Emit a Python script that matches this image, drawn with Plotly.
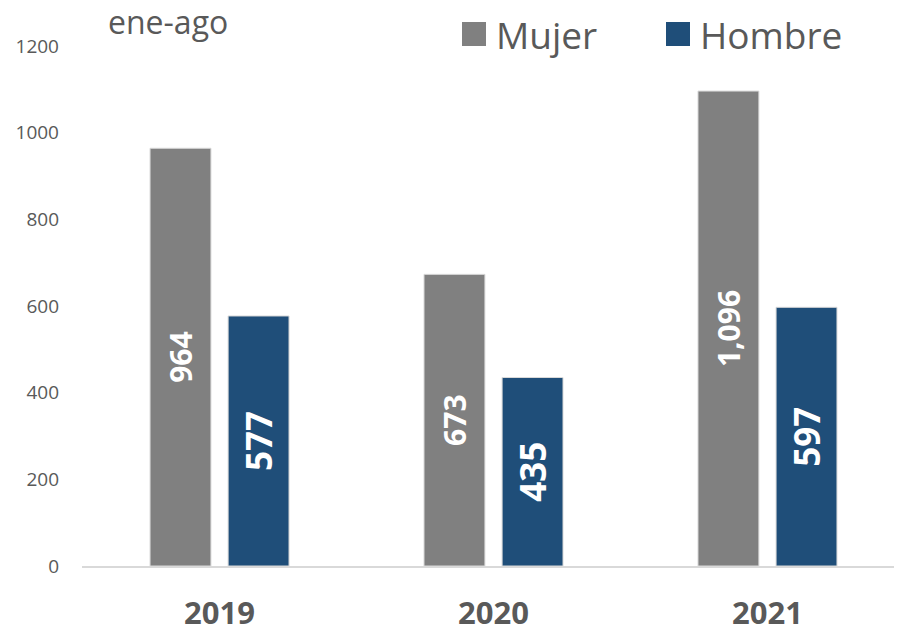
import plotly.graph_objects as go

years = ["2019", "2020", "2021"]
mujer = [964, 673, 1096]
hombre = [577, 435, 597]
mujer_labels = ["964", "673", "1,096"]
hombre_labels = ["577", "435", "597"]

GRAY = "#808080"
BLUE = "#1F4E79"
TXT = "#595959"
FONT = "Open Sans"

fig = go.Figure()
fig.add_trace(go.Bar(x=years, y=mujer, name="Mujer", marker=dict(color=GRAY, line=dict(color="#d9d9d9", width=1)),
                     text=mujer_labels, textposition="inside", textangle=-90, insidetextanchor="middle",
                     textfont=dict(family=FONT, size=30, color="white", weight="bold"), showlegend=False))
fig.add_trace(go.Bar(x=years, y=hombre, name="Hombre", marker=dict(color=BLUE, line=dict(color="#d9d9d9", width=1)),
                     text=hombre_labels, textposition="inside", textangle=-90, insidetextanchor="middle",
                     textfont=dict(family=FONT, size=35, color="white", weight="bold"), showlegend=False))

# legend drawn by hand (big squares); positions in page pixels relative to plot area (x 82..902, y 46..566)
for x0, col, label in [(462, GRAY, "Mujer"), (666, BLUE, "Hombre")]:
    fig.add_shape(type="rect", xref="paper", yref="paper",
                  x0=(x0 - 82) / 820, x1=(x0 + 24 - 82) / 820,
                  y0=(566 - 46) / 520, y1=(566 - 22) / 520,
                  fillcolor=col, line=dict(width=0))
    fig.add_annotation(text=label, xref="paper", yref="paper", x=(x0 + 32 - 82) / 820, y=(566 - 34) / 520,
                       xanchor="left", yanchor="middle", showarrow=False,
                       font=dict(family=FONT, size=37, color=TXT))

fig.add_annotation(text="ene-ago", xref="paper", yref="paper", x=(106 - 82) / 820, y=(566 - 22) / 520,
                   xanchor="left", yanchor="middle", showarrow=False, font=dict(family=FONT, size=32, color=TXT))

# page has an 8px body margin, so the figure is 894x624 and margins are shifted by 8
fig.update_layout(
    width=894, height=624, barmode="group", bargap=0.43, bargroupgap=0.22,
    margin=dict(l=74, r=0, t=38, b=66),
    paper_bgcolor="white", plot_bgcolor="white",
    font=dict(family=FONT, color=TXT),
    xaxis=dict(range=[-0.502, 2.491], showline=True, linecolor="#d9d9d9", linewidth=2, automargin=False,
               ticks="outside", ticklen=19, tickcolor="rgba(0,0,0,0)",
               tickfont=dict(family=FONT, size=31, color=TXT, weight="bold")),
    yaxis=dict(range=[0, 1200], dtick=200, showgrid=False, zeroline=False, automargin=False,
               ticklabelstandoff=22, tickfont=dict(family=FONT, size=19, color=TXT)),
)
fig.write_html("out.html")
